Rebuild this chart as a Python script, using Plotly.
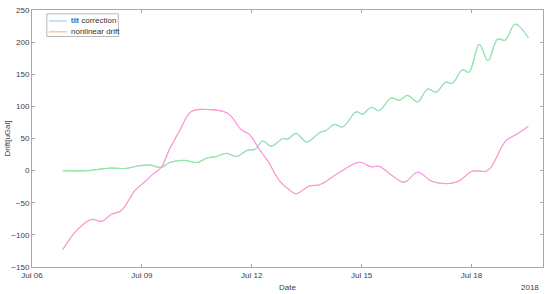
from datetime import datetime, timedelta
import plotly.graph_objects as go

# day of July 2018 (fractional) and drift values in uGal
tilt_day = [6.84, 7.49, 8.13, 8.58, 8.90, 9.22, 9.53, 9.76, 10.17, 10.49, 10.80, 11.03,
            11.31, 11.58, 11.89, 12.08, 12.30, 12.53, 12.85, 12.98, 13.21, 13.50, 13.85,
            14.03, 14.26, 14.48, 14.85, 15.03, 15.26, 15.48, 15.80, 16.03, 16.25, 16.53,
            16.80, 17.03, 17.30, 17.48, 17.75, 17.93, 18.21, 18.45, 18.71, 18.92, 19.19, 19.55]
tilt_val = [0, 0, 4, 3.5, 7.5, 8.6, 5, 12.6, 16, 12.6, 20, 22,
            27, 22, 32, 33, 46, 38, 50, 49, 58, 44.6, 59,
            62.6, 72, 68, 91.4, 88, 98.6, 93.5, 113, 109.5, 117, 107,
            127, 122, 137.7, 136, 157, 153, 196.5, 171, 204.7, 203, 228, 207]

drift_day = [6.84, 7.22, 7.63, 7.90, 8.17, 8.44, 8.81, 9.13, 9.31, 9.53, 9.76, 10.03,
             10.35, 10.85, 11.35, 11.71, 11.94, 12.21, 12.44, 12.76, 13.03, 13.21, 13.57,
             13.85, 14.39, 14.94, 15.26, 15.48, 15.84, 16.16, 16.53, 16.93, 17.39, 17.66,
             18.02, 18.39, 18.53, 18.93, 19.21, 19.43, 19.55]
drift_val = [-123, -93, -76, -79, -68, -62, -31, -15, -5, 5, 34, 62,
             92, 95, 89, 64, 56, 33, 15, -16, -30, -36, -24,
             -22, -3, 13, 6, 6.5, -8, -18, -2.5, -17, -20, -16,
             -1, -1, 5, 46, 56, 64, 69]

tick_days = [6, 9, 12, 15, 18]
tick_text = ["Jul 06", "Jul 09", "Jul 12", "Jul 15", "Jul 18"]


def to_dates(days):
    return [datetime(2018, 7, 1) + timedelta(days=d - 1) for d in days]


axis_col = "#a8a8a8"
text_col = "#404040"
font = "Liberation Sans, Arial, sans-serif"

fig = go.Figure()
# MATLAB default colours underneath, bright overlays on top
fig.add_trace(go.Scatter(x=to_dates(tilt_day), y=tilt_val, mode="lines",
                         line=dict(color="#a6cff0", width=1.2, shape="spline"),
                         name="tilt correction", showlegend=False))
fig.add_trace(go.Scatter(x=to_dates(drift_day), y=drift_val, mode="lines",
                         line=dict(color="#f6b898", width=1.2, shape="spline"),
                         name="nonlinear drift", showlegend=False))
fig.add_trace(go.Scatter(x=to_dates(tilt_day), y=tilt_val, mode="lines",
                         line=dict(color="#8eee8e", width=1, shape="spline"),
                         showlegend=False))
fig.add_trace(go.Scatter(x=to_dates(drift_day), y=drift_val, mode="lines",
                         line=dict(color="#ff8ef8", width=1, shape="spline"),
                         showlegend=False))

# legend drawn by hand (MATLAB short samples)
fig.add_shape(type="rect", xref="paper", yref="paper", x0=0.029, x1=0.169, y0=0.897, y1=0.985,
              line=dict(color="#b8b8b8", width=1), fillcolor="white")
legend_items = [("tilt correction", "#a6cff0", 0.9575), ("nonlinear drift", "#f6b898", 0.915)]
for label, col, yy in legend_items:
    fig.add_shape(type="line", xref="paper", yref="paper", x0=0.033, x1=0.068, y0=yy, y1=yy,
                  line=dict(color=col, width=1.2))
    fig.add_annotation(text=label, xref="paper", yref="paper", x=0.073, y=yy, xanchor="left",
                       yanchor="middle", showarrow=False, font=dict(size=8, color="#333333"))

fig.add_annotation(text="Date", xref="paper", yref="paper", x=0.5, y=-0.081, xanchor="center",
                   yanchor="middle", showarrow=False, font=dict(size=8, color=text_col))
fig.add_annotation(text="2018", xref="paper", yref="paper", x=0.975, y=-0.081, xanchor="center",
                   yanchor="middle", showarrow=False, font=dict(size=8, color=text_col))
fig.add_annotation(text="Drift[uGal]", xref="paper", yref="paper", x=-0.047, y=0.5, textangle=-90,
                   xanchor="center", yanchor="middle", showarrow=False,
                   font=dict(size=8, color=text_col))

fig.update_xaxes(range=[datetime(2018, 7, 6), datetime(2018, 7, 19, 22, 50)],
                 tickvals=to_dates(tick_days), ticktext=tick_text,
                 showgrid=False, zeroline=False, showline=True, linecolor=axis_col, linewidth=1,
                 mirror="ticks", ticks="inside", ticklen=3, tickcolor=axis_col,
                 tickfont=dict(size=8, color=text_col))
fig.update_yaxes(range=[-150, 250], dtick=50, showgrid=False, zeroline=False,
                 showline=True, linecolor=axis_col, linewidth=1, mirror="ticks",
                 ticks="inside", ticklen=3, tickcolor=axis_col,
                 tickfont=dict(size=8, color=text_col))
fig.update_layout(width=550, height=294, margin=dict(l=32, r=6, t=8, b=27),
                  paper_bgcolor="white", plot_bgcolor="white", font=dict(family=font),
                  showlegend=False)

# the page's default body margin would shift the figure by 8px
fig.write_html("out.html", config={"displayModeBar": False},
               post_script="document.body.style.margin='0';")
